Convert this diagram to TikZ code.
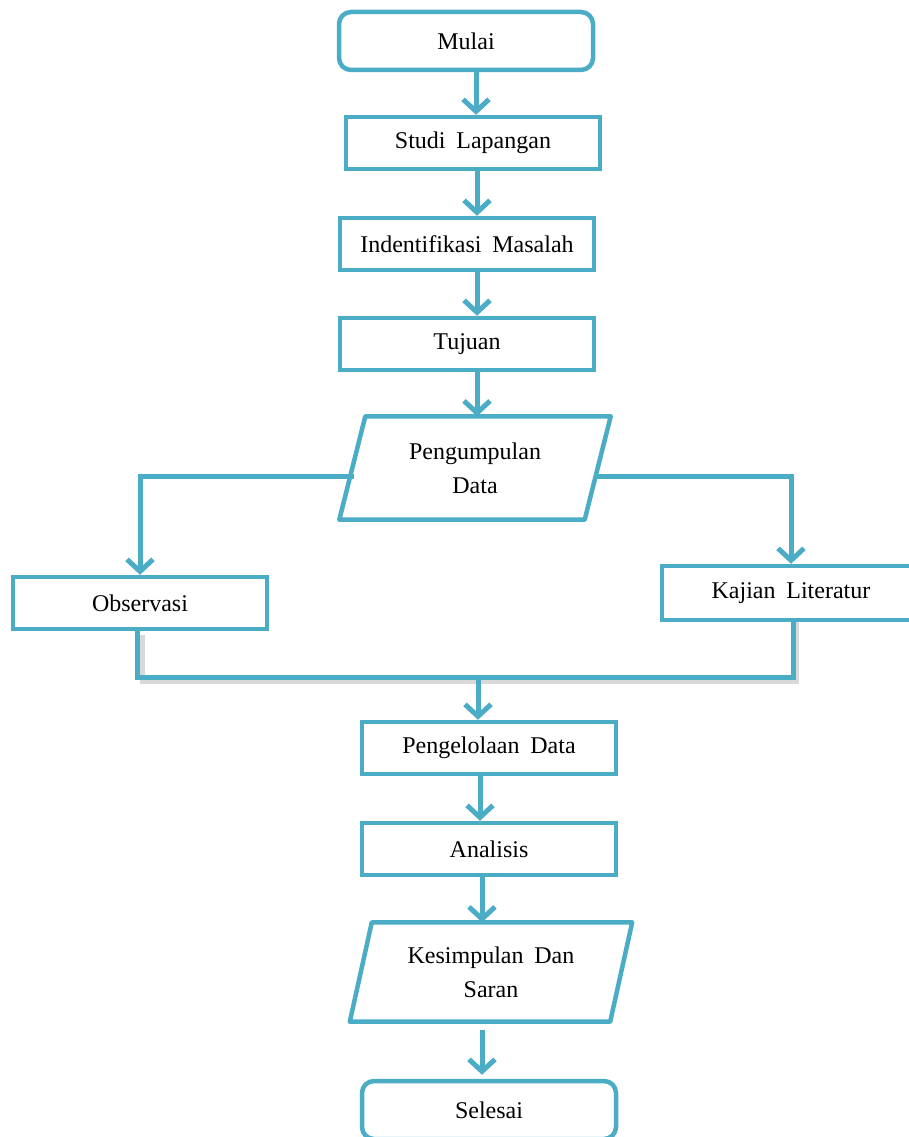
\documentclass[tikz,border=0pt]{standalone}
\usepackage{fontspec}
\setmainfont{Liberation Serif}
\usetikzlibrary{arrows.meta}
\definecolor{teal1}{RGB}{75,172,198}
\newcommand{\wsp}{\hspace{0.45em}}
\begin{document}
\begin{tikzpicture}[x=1pt,y=-1pt,
  box/.style={draw=teal1, line width=4.5pt, fill=white, minimum width=254pt, minimum height=52pt,
    inner sep=0pt, font=\fontsize{24}{34}\selectfont, align=center},
  rbox/.style={box, rounded corners=12pt, minimum height=58pt},
  para/.style={draw=none, minimum width=245pt, minimum height=103pt, inner sep=0pt,
    font=\fontsize{24}{34}\selectfont, align=center},
  pshape/.style={draw=teal1, line width=4.5pt, fill=white, line join=round},
  arr/.style={draw=teal1, line width=5pt, -{Straight Barb[length=12pt,width=26pt]}},
  ln/.style={draw=teal1, line width=5pt},
  shadow/.style={draw=black!25, line width=5pt, opacity=0.6}]
\useasboundingbox (0,0) rectangle (909,1137);

\node[rbox] (mulai) at (466,41) {Mulai};
\node[box] (studi) at (473,143) {Studi\wsp Lapangan};
\node[box] (ident) at (467,244) {Indentifikasi\wsp Masalah};
\node[box] (tujuan) at (467,344) {Tujuan};

\node[para] (peng) at (475,468) {};
\draw[pshape] ([xshift=13pt]peng.north west) -- ([xshift=13pt]peng.north east)
  -- ([xshift=-13pt]peng.south east) -- ([xshift=-13pt]peng.south west) -- cycle;
\node[para] at (peng.center) {Pengumpulan\\Data};

\node[box] (obs) at (140,603) {Observasi};
\node[box, minimum width=258pt, minimum height=54pt] (kaj) at (791,593) {Kajian\wsp Literatur};

\node[box] (pengel) at (489,748) {Pengelolaan\wsp Data};
\node[box] (anal) at (489,849) {Analisis};

\node[para, minimum width=256pt, minimum height=99pt] (kes) at (491,972) {};
\draw[pshape] ([xshift=9pt]kes.north west) -- ([xshift=13pt]kes.north east)
  -- ([xshift=-9pt]kes.south east) -- ([xshift=-13pt]kes.south west) -- cycle;
\node[para] at (kes.center) {Kesimpulan\wsp Dan\\Saran};

\node[rbox] (sel) at (489,1110) {Selesai};

\coordinate (merge) at (478,677);

% arrows between main steps
\draw[arr] ([xshift=10pt]mulai.south) -- ([xshift=3pt]studi.north);
\draw[arr] ([xshift=4pt]studi.south) -- ([xshift=10pt]ident.north);
\draw[arr] ([xshift=10pt]ident.south) -- ([xshift=10pt]tujuan.north);
\draw[arr] ([xshift=10pt]tujuan.south) -- ([xshift=2pt]peng.north);

% branches
\draw[arr] ([xshift=2pt,yshift=-8pt]peng.west) -| (obs.north);
\draw[arr] ([xshift=-2pt,yshift=-8pt]peng.east) -| (kaj.north);

% merge line with shadow
\draw[shadow] ([xshift=2pt,yshift=-4pt]obs.south) |- ([yshift=-4pt]merge) -| ([xshift=5pt]kaj.south);
\draw[ln] ([xshift=-3pt]obs.south) |- (merge) -| ([xshift=2pt]kaj.south);
\draw[arr] (merge) -- (merge |- pengel.north);

\draw[arr] ([xshift=-9pt]pengel.south) -- ([xshift=-9pt]anal.north);
\draw[arr] ([xshift=-7pt]anal.south) -- ([xshift=-9pt]kes.north);
\draw[arr] ([xshift=-9pt,yshift=-8pt]kes.south) -- ([xshift=-7pt,yshift=4pt]sel.north);
\end{tikzpicture}
\end{document}
